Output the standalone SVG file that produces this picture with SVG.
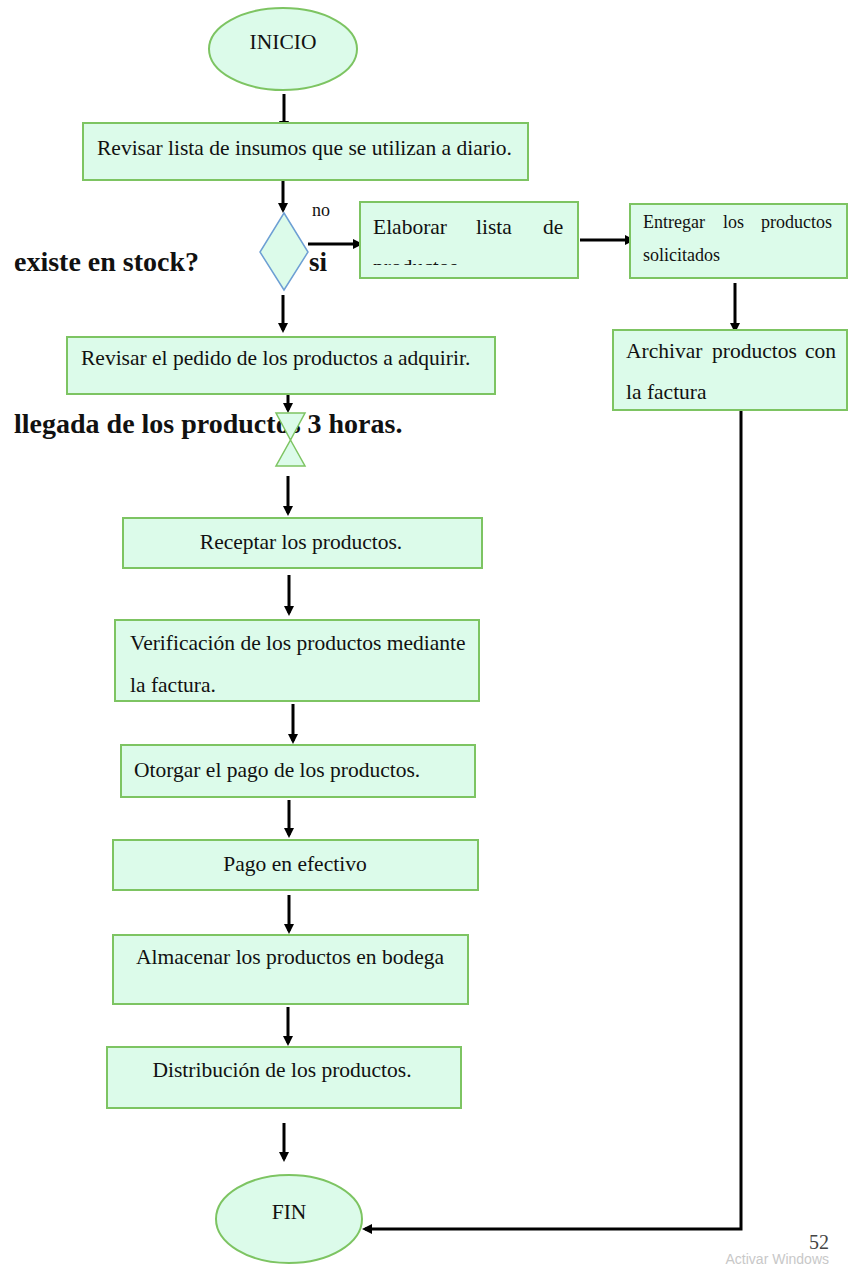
<svg xmlns="http://www.w3.org/2000/svg" width="848" height="1266" viewBox="0 0 848 1266">
<style>
.box{fill:#dcfbea;stroke:#7dc462;stroke-width:2}
text{font-family:'Liberation Serif','Times New Roman','DejaVu Serif',serif}
.t{font-size:21.5px;fill:#111}
.tc{font-size:21.5px;fill:#111;text-anchor:middle}
.ts{font-size:18px;fill:#111}
.big{font-size:28px;font-weight:bold;fill:#111}
.c{stroke:#000;stroke-width:3;fill:none}
</style>
<defs>
<marker id="ah" markerWidth="10" markerHeight="10" refX="7" refY="5" orient="auto" markerUnits="userSpaceOnUse" viewBox="0 0 10 10">
<path d="M0,0 L10,5 L0,10 Z" fill="#000"/>
</marker>
<clipPath id="clipElab"><rect x="360" y="202" width="218" height="63"/></clipPath>
</defs>
<rect width="848" height="1266" fill="#fff"/>

<g id="labels">
<text class="big" x="14" y="271">existe en stock?</text>
<text class="big" x="14" y="433">llegada de los productos 3 horas.</text>
</g>

<g id="connectors">
<line class="c" x1="284" y1="94" x2="284" y2="128" marker-end="url(#ah)"/>
<line class="c" x1="283" y1="172" x2="283" y2="210" marker-end="url(#ah)"/>
<line class="c" x1="308" y1="244" x2="360" y2="244" marker-end="url(#ah)"/>
<line class="c" x1="580" y1="240" x2="632" y2="240" marker-end="url(#ah)"/>
<line class="c" x1="735" y1="283" x2="735" y2="330" marker-end="url(#ah)"/>
<line class="c" x1="283" y1="295" x2="283" y2="330" marker-end="url(#ah)"/>
<line class="c" x1="288" y1="370" x2="288" y2="410" marker-end="url(#ah)"/>
<line class="c" x1="288" y1="476" x2="288" y2="513" marker-end="url(#ah)"/>
<line class="c" x1="289" y1="575" x2="289" y2="613" marker-end="url(#ah)"/>
<line class="c" x1="293" y1="704" x2="293" y2="741" marker-end="url(#ah)"/>
<line class="c" x1="289" y1="800" x2="289" y2="835" marker-end="url(#ah)"/>
<line class="c" x1="289" y1="895" x2="289" y2="931" marker-end="url(#ah)"/>
<line class="c" x1="288" y1="1007" x2="288" y2="1043" marker-end="url(#ah)"/>
<line class="c" x1="284" y1="1123" x2="284" y2="1159" marker-end="url(#ah)"/>
<polyline class="c" stroke-width="4" points="733,409 741,409 741,1229 365,1229" marker-end="url(#ah)"/>
</g>

<g id="inicio">
<ellipse cx="283" cy="49" rx="74" ry="41" class="box" stroke-width="1.5"/>
<text class="tc" x="283" y="49">INICIO</text>
</g>

<g id="revisar-lista">
<rect class="box" x="83" y="123" width="445" height="57"/>
<text class="t" x="97" y="155">Revisar lista de insumos que se utilizan a diario.</text>
</g>

<g id="decision">
<polygon points="284,213 308,252 284,290 260,252" fill="#dcfbea" stroke="#6d9fd4" stroke-width="1.5"/>
<text class="ts" x="312" y="216">no</text>
<text class="big" x="309" y="271" style="font-size:27px">si</text>
</g>

<g id="elaborar">
<rect class="box" x="360" y="202" width="218" height="76"/>
<g clip-path="url(#clipElab)">
<text class="t" x="373" y="234">Elaborar</text>
<text class="t" x="476" y="234">lista</text>
<text class="t" x="543" y="234">de</text>
<text class="t" x="373" y="274">productos</text>
</g>
</g>

<g id="entregar">
<rect class="box" x="630" y="204" width="217" height="74"/>
<text class="ts" x="643" y="228">Entregar</text>
<text class="ts" x="723" y="228">los</text>
<text class="ts" x="761" y="228">productos</text>
<text class="ts" x="643" y="261">solicitados</text>
</g>

<g id="archivar">
<rect class="box" x="613" y="330" width="234" height="80"/>
<text class="t" x="626" y="358">Archivar</text>
<text class="t" x="712" y="358">productos</text>
<text class="t" x="805" y="358">con</text>
<text class="t" x="626" y="399">la factura</text>
</g>

<g id="revisar-pedido">
<rect class="box" x="67" y="337" width="428" height="57"/>
<text class="t" x="81" y="365">Revisar el pedido de los productos a adquirir.</text>
</g>

<g id="espera">
<polygon points="276,413 305,413 290.5,440" fill="#dcfbea" stroke="#7dc462" stroke-width="1.5"/>
<polygon points="290.5,440 305,466 276,466" fill="#dcfbea" stroke="#7dc462" stroke-width="1.5"/>
</g>

<g id="receptar">
<rect class="box" x="123" y="518" width="359" height="50"/>
<text class="tc" x="301" y="549">Receptar los productos.</text>
</g>

<g id="verificacion">
<rect class="box" x="115" y="620" width="364" height="81"/>
<text class="t" x="130" y="650">Verificación de los productos mediante</text>
<text class="t" x="130" y="692">la factura.</text>
</g>

<g id="otorgar">
<rect class="box" x="121" y="745" width="354" height="52"/>
<text class="t" x="134" y="777">Otorgar el pago de los productos.</text>
</g>

<g id="pago">
<rect class="box" x="113" y="840" width="365" height="50"/>
<text class="tc" x="295" y="871">Pago en efectivo</text>
</g>

<g id="almacenar">
<rect class="box" x="113" y="935" width="355" height="69"/>
<text class="tc" x="290" y="964">Almacenar los productos en bodega</text>
</g>

<g id="distribucion">
<rect class="box" x="107" y="1047" width="354" height="61"/>
<text class="tc" x="282" y="1077">Distribución de los productos.</text>
</g>

<g id="fin">
<ellipse cx="289" cy="1219" rx="73" ry="44" class="box" stroke-width="1.5"/>
<text class="tc" x="289" y="1219">FIN</text>
</g>

<g id="footer">
<text x="829" y="1249" style="font-size:20px" fill="#444" text-anchor="end">52</text>
<text x="829" y="1264" style="font-family:'Liberation Sans',sans-serif;font-size:14px" fill="#c8c8c8" text-anchor="end">Activar Windows</text>
</g>
</svg>
